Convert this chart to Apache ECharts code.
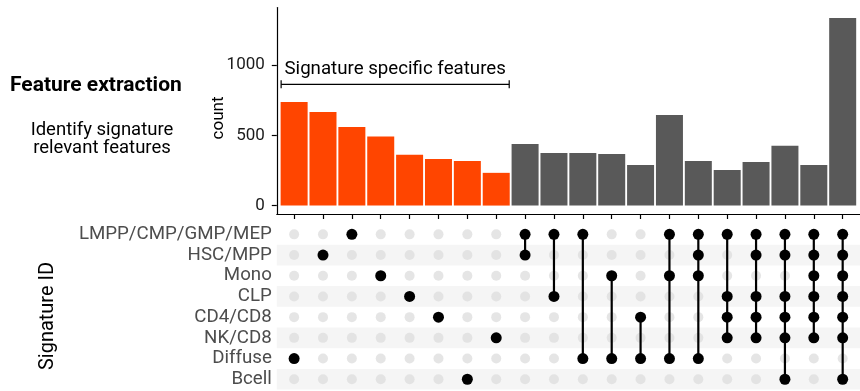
<!DOCTYPE html>
<html>
<head>
<meta charset="utf-8">
<script src="https://cdn.jsdelivr.net/npm/echarts@6/dist/echarts.min.js"></script>
<style>
  html, body { margin: 0; padding: 0; background: #ffffff; }
  #chart { width: 860px; height: 391px; }
</style>
</head>
<body>
<div id="chart"></div>
<script>
// Signature sets (matrix rows, top to bottom)
const signatures = ['LMPP/CMP/GMP/MEP', 'HSC/MPP', 'Mono', 'CLP', 'CD4/CD8', 'NK/CD8', 'Diffuse', 'Bcell'];

// Feature count of each intersection (bars, left to right)
const counts = [738, 666, 560, 491, 361, 332, 318, 233, 439, 375, 375, 368, 289, 645, 318, 254, 311, 425, 289, 1335];

// Signatures making up each intersection
const intersections = [
  ['Diffuse'],
  ['HSC/MPP'],
  ['LMPP/CMP/GMP/MEP'],
  ['Mono'],
  ['CLP'],
  ['CD4/CD8'],
  ['Bcell'],
  ['NK/CD8'],
  ['LMPP/CMP/GMP/MEP', 'HSC/MPP'],
  ['LMPP/CMP/GMP/MEP', 'CLP'],
  ['LMPP/CMP/GMP/MEP', 'Diffuse'],
  ['Mono', 'Diffuse'],
  ['CD4/CD8', 'Diffuse'],
  ['LMPP/CMP/GMP/MEP', 'Mono', 'Diffuse'],
  ['LMPP/CMP/GMP/MEP', 'HSC/MPP', 'Mono', 'Diffuse'],
  ['LMPP/CMP/GMP/MEP', 'CLP', 'CD4/CD8', 'NK/CD8'],
  ['LMPP/CMP/GMP/MEP', 'HSC/MPP', 'CLP', 'CD4/CD8', 'NK/CD8'],
  ['LMPP/CMP/GMP/MEP', 'HSC/MPP', 'CLP', 'CD4/CD8', 'NK/CD8', 'Bcell'],
  ['LMPP/CMP/GMP/MEP', 'HSC/MPP', 'Mono', 'CLP', 'CD4/CD8', 'NK/CD8'],
  ['LMPP/CMP/GMP/MEP', 'HSC/MPP', 'Mono', 'CLP', 'CD4/CD8', 'NK/CD8', 'Bcell']
];

// Count axis tick labels
const countTicks = [0, 500, 1000];

const bracketLabel = 'Signature specific features';

const FONT = 'Roboto';
const ORANGE = '#FF4500';
const DARK = '#595959';

// ---- derived structures ----
const nCols = counts.length;
const colIdx = counts.map((_, i) => i);
const rowOf = name => signatures.indexOf(name) + 1;

const barData = counts.map((v, i) => [i, v]);
const activeDots = [];
const inactiveDots = [];
const segments = [];
intersections.forEach((members, i) => {
  const rows = members.map(rowOf);
  signatures.forEach((s, r) => {
    if (rows.includes(r + 1)) activeDots.push([i, r + 1]);
    else inactiveDots.push([i, r + 1]);
  });
  if (rows.length > 1) segments.push([i, Math.min(...rows), Math.max(...rows)]);
});
const stripeRows = signatures.map((_, r) => r + 1).filter(r => r % 2 === 0).map(r => [r]);
const singles = colIdx.filter(i => intersections[i].length === 1);
const bracketSpan = [[Math.min(...singles), Math.max(...singles)]];

const X_MIN = -0.6, X_MAX = nCols - 1 + 0.6;

const chart = echarts.init(document.getElementById('chart'), null, { renderer: 'canvas' });

chart.setOption({
  animation: false,
  backgroundColor: '#ffffff',
  textStyle: { fontFamily: FONT },
  grid: [
    { left: 276.8, top: 7.5, width: 591, height: 206.5, containLabel: false },
    { left: 276.8, top: 224, width: 591, height: 165.6, containLabel: false }
  ],
  xAxis: [
    {
      gridIndex: 0, type: 'value', min: X_MIN, max: X_MAX,
      axisLine: { show: true, onZero: false, lineStyle: { color: '#000', width: 1.2 } },
      axisTick: { show: true, length: 5, customValues: colIdx, lineStyle: { color: '#000', width: 1.2 } },
      axisLabel: { show: false },
      splitLine: { show: false }
    },
    {
      gridIndex: 1, type: 'value', min: X_MIN, max: X_MAX, show: false,
      splitLine: { show: false }
    }
  ],
  yAxis: [
    {
      gridIndex: 0, type: 'value', min: -60, max: 1410,
      axisLine: { show: true, onZero: false, lineStyle: { color: '#000', width: 1.2 } },
      axisTick: { show: true, length: 5, customValues: countTicks, lineStyle: { color: '#000', width: 1.2 } },
      axisLabel: {
        customValues: countTicks, formatter: v => String(v),
        color: '#1a1a1a', fontSize: 17, fontFamily: FONT, margin: 12
      },
      splitLine: { show: false }
    },
    {
      gridIndex: 1, type: 'value', min: 0.5, max: signatures.length + 0.5, inverse: true,
      axisLine: { show: false },
      axisTick: { show: false },
      axisLabel: {
        customValues: signatures.map((_, r) => r + 1),
        formatter: v => signatures[Math.round(v) - 1] || '',
        color: '#4D4D4D', fontSize: 18.7, fontFamily: FONT, margin: 5
      },
      splitLine: { show: false }
    }
  ],
  graphic: [
    { type: 'text', left: 10, top: 75, style: { text: 'Feature extraction', font: 'bold 21px Roboto', fill: '#000' } },
    { type: 'text', x: 102, y: 130, style: { text: 'Identify signature', font: '18.5px Roboto', fill: '#000', align: 'center', verticalAlign: 'middle' } },
    { type: 'text', x: 102, y: 148, style: { text: 'relevant features', font: '18.5px Roboto', fill: '#000', align: 'center', verticalAlign: 'middle' } },
    { type: 'text', x: 219, y: 118, rotation: Math.PI / 2, style: { text: 'count', font: '17px Roboto', fill: '#000', align: 'center', verticalAlign: 'middle' } },
    { type: 'text', x: 48, y: 316, rotation: Math.PI / 2, style: { text: 'Signature ID', font: '20px Roboto', fill: '#000', align: 'center', verticalAlign: 'middle' } }
  ],
  series: [
    {
      type: 'bar', xAxisIndex: 0, yAxisIndex: 0,
      data: barData,
      barWidth: 27,
      itemStyle: { color: p => intersections[p.dataIndex].length === 1 ? ORANGE : DARK },
      z: 2
    },
    {
      // bracket over the single-signature bars
      type: 'custom', xAxisIndex: 0, yAxisIndex: 0,
      data: bracketSpan,
      clip: false,
      renderItem: (params, api) => {
        const a = api.coord([api.value(0) - 0.45, 863]);
        const b = api.coord([api.value(1) + 0.45, 863]);
        const style = { stroke: '#000', lineWidth: 1.2 };
        return {
          type: 'group',
          children: [
            { type: 'line', shape: { x1: a[0], y1: a[1], x2: b[0], y2: b[1] }, style },
            { type: 'line', shape: { x1: a[0], y1: a[1] - 4, x2: a[0], y2: a[1] + 4 }, style },
            { type: 'line', shape: { x1: b[0], y1: b[1] - 4, x2: b[0], y2: b[1] + 4 }, style },
            { type: 'text', x: (a[0] + b[0]) / 2, y: a[1] - 15,
              style: { text: bracketLabel, font: '18.7px Roboto', fill: '#000', align: 'center', verticalAlign: 'middle' } }
          ]
        };
      },
      z: 3
    },
    {
      // alternating row shading
      type: 'custom', xAxisIndex: 1, yAxisIndex: 1,
      data: stripeRows,
      clip: false,
      renderItem: (params, api) => {
        const r = api.value(0);
        const p1 = api.coord([X_MIN, r - 0.5]);
        const p2 = api.coord([X_MAX, r + 0.5]);
        return { type: 'rect', shape: { x: p1[0], y: p1[1], width: p2[0] - p1[0], height: p2[1] - p1[1] }, style: { fill: '#F5F5F5' } };
      },
      z: 1
    },
    {
      type: 'scatter', xAxisIndex: 1, yAxisIndex: 1,
      data: inactiveDots, symbolSize: 10,
      itemStyle: { color: '#DFDFDF' },
      z: 2
    },
    {
      type: 'custom', xAxisIndex: 1, yAxisIndex: 1,
      data: segments,
      renderItem: (params, api) => {
        const a = api.coord([api.value(0), api.value(1)]);
        const b = api.coord([api.value(0), api.value(2)]);
        return { type: 'line', shape: { x1: a[0], y1: a[1], x2: b[0], y2: b[1] }, style: { stroke: '#000', lineWidth: 2.2 } };
      },
      z: 3
    },
    {
      type: 'scatter', xAxisIndex: 1, yAxisIndex: 1,
      data: activeDots, symbolSize: 11,
      itemStyle: { color: '#000', opacity: 1 },
      z: 4
    }
  ]
});
</script>
</body>
</html>
